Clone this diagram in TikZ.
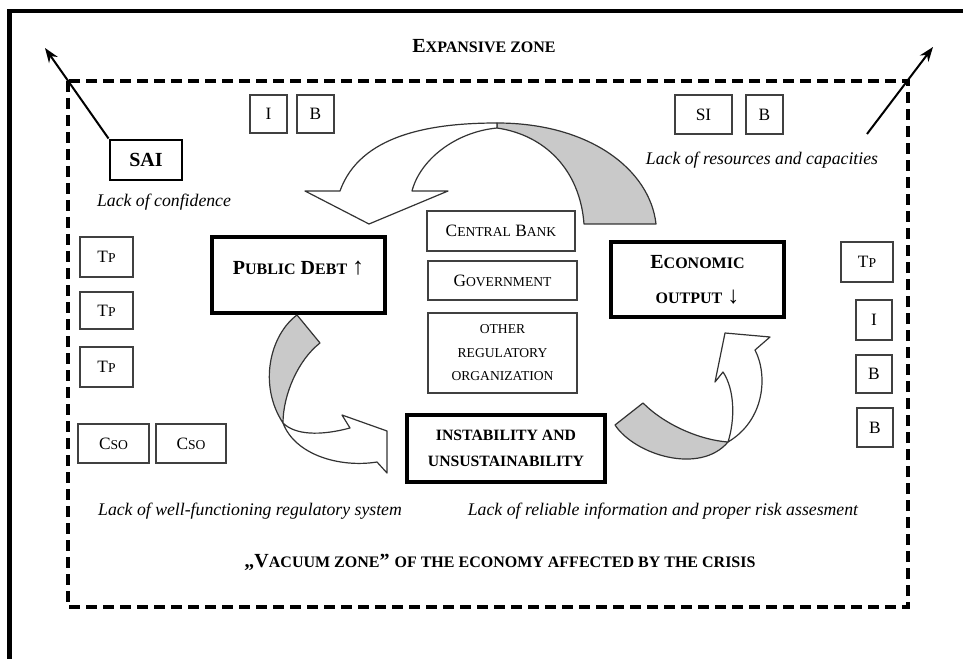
\documentclass[tikz,border=0pt]{standalone}
\usepackage{fontspec}
\setmainfont{Liberation Serif}
\usetikzlibrary{arrows.meta}
\newcommand\smc[1]{{\fontsize{10.2}{12}\selectfont #1}}
\newcommand\smb[1]{{\fontsize{12}{14}\selectfont #1}}
\begin{document}
\begin{tikzpicture}[x=0.75pt,y=-0.75pt,
 every node/.style={font=\fontsize{13}{15.6}\selectfont, inner sep=0pt, text=black},
 thinbox/.style={draw=black!75, line width=1pt, align=center},
 thickbox/.style={draw=black, line width=3pt, align=center},
 lbl/.style={font=\fontsize{13.3}{16}\selectfont\itshape},
 head/.style={font=\fontsize{15}{18}\selectfont\bfseries},
 ribbon/.style={draw=black!80, line width=0.9pt, line join=round},
 shade/.style={ribbon, fill=black!21},
 ptr/.style={line width=1.5pt, -{Stealth[length=11pt,width=8pt]}},
]
\useasboundingbox (0,0) rectangle (963,659);
\fill[white] (0,0) rectangle (963,659);
% outer frame
\draw[line width=3.5pt] (9.5,659) -- (9.5,11) -- (963,11);
% dashed zone
\draw[line width=3pt, dash pattern=on 8.25pt off 4.5pt] (68,81) rectangle (908,607);

% titles
\node[head] (exp) at (484,46) {E\smb{XPANSIVE ZONE}};
\node[head] (vac) at (500,562) {„V\smb{ACUUM ZONE}” \smb{OF THE ECONOMY AFFECTED BY THE CRISIS}};

% SAI
\node[draw, line width=2.2pt, minimum width=54pt, minimum height=30pt,
      font=\fontsize{15}{18}\selectfont\bfseries] (sai) at (146,160) {SAI};
\node[lbl] (conf) at (164,202) {Lack of confidence};
\coordinate (lt) at (45,48);
\draw[ptr] (sai.north west) -- (lt);
\coordinate (rs) at (867,134);
\coordinate (rt) at (933,47);
\draw[ptr] (rs) -- (rt);
\node[lbl] (res) at (762,160) {Lack of resources and capacities};

% small boxes top
\node[thinbox, minimum width=27.75pt, minimum height=28.5pt] (i1) at (268.5,114) {I};
\node[thinbox, minimum width=27.75pt, minimum height=28.5pt] (b1) at (315.5,114) {B};
\node[thinbox, minimum width=42.75pt, minimum height=29.25pt] (si) at (703.5,114.5) {SI};
\node[thinbox, minimum width=27.75pt, minimum height=29.25pt] (b2) at (764.5,114.5) {B};

% left boxes
\node[thinbox, minimum width=39.75pt, minimum height=30pt] (tp1) at (106.5,257) {T\smc{P}};
\node[thinbox, minimum width=39.75pt, minimum height=27.75pt] (tp2) at (106.5,310.5) {T\smc{P}};
\node[thinbox, minimum width=39.75pt, minimum height=30pt] (tp3) at (106.5,367) {T\smc{P}};
\node[thinbox, minimum width=53.25pt, minimum height=29.25pt] (cso1) at (113.5,443.5) {C\smc{SO}};
\node[thinbox, minimum width=52.5pt, minimum height=29.25pt] (cso2) at (191,443.5) {C\smc{SO}};

% right boxes
\node[thinbox, minimum width=39pt, minimum height=30pt] (tp4) at (867,262) {T\smc{P}};
\node[thinbox, minimum width=27pt, minimum height=30pt] (i2) at (874,320) {I};
\node[thinbox, minimum width=27pt, minimum height=28.5pt] (b3) at (874,374) {B};
\node[thinbox, minimum width=27pt, minimum height=29.25pt] (b4) at (875,427.5) {B};

% centre boxes
\node[thinbox, minimum width=111pt, minimum height=30pt] (cb) at (501,231) {C\smc{ENTRAL} B\smc{ANK}};
\node[thinbox, minimum width=111.75pt, minimum height=29.25pt] (gov) at (502.5,280.5) {G\smc{OVERNMENT}};
\node[thinbox, minimum width=111.75pt, minimum height=60pt,
      font=\fontsize{10.2}{17.6}\selectfont] (oro) at (502.5,353) {OTHER\\REGULATORY\\ORGANIZATION};

% main boxes
\node[thickbox, minimum width=129.75pt, minimum height=57pt] (pd) at (298.5,275) {};
\node[head] (pdt) at (298.5,268) {P\smb{UBLIC} D\smb{EBT} {\fontsize{18}{18}\selectfont\mdseries ↑}};
\node[thickbox, minimum width=129.75pt, minimum height=56.25pt,
      font=\fontsize{15}{26}\selectfont\bfseries] (eo) at (697.5,279.5)
      {E\smb{CONOMIC}\\\smb{OUTPUT} {\fontsize{18}{18}\selectfont\mdseries ↓}};
\node[thickbox, minimum width=148.5pt, minimum height=50.25pt,
      font=\fontsize{11.8}{19}\selectfont\bfseries] (ins) at (506,448.5)
      {INSTABILITY AND\\UNSUSTAINABILITY};

% bottom labels
\node[lbl] (reg) at (250,511) {Lack of well-functioning regulatory system};
\node[lbl] (inf) at (663,511) {Lack of reliable information and proper risk assesment};

% top ribbon arrow
\draw[shade] (497,123) .. controls (590,123) and (650,170) .. (656,224)
   -- (584,224) .. controls (580,170) and (545,135) .. (497,128) -- cycle;
\draw[ribbon, fill=white] (497,123) .. controls (430,123) and (360,135) .. (340,191)
   -- (305,191) -- (369,224) -- (448,191) -- (412,191)
   .. controls (420,160) and (455,132) .. (497,128) -- cycle;

% left ribbon arrow
\draw[shade] (297,315) -- (320,343) .. controls (298,360) and (283,395) .. (283,423)
   .. controls (258,385) and (270,335) .. (297,315) -- cycle;
\draw[ribbon, fill=white] (283,423) .. controls (295,455) and (340,468) .. (377,462)
   -- (387,473) -- (387,431) -- (342,415) -- (350,428)
   .. controls (320,436) and (295,435) .. (283,423) -- cycle;

% right ribbon arrow
\draw[shade] (615,425) -- (643,403) .. controls (665,425) and (700,440) .. (728,442)
   .. controls (700,475) and (635,455) .. (615,425) -- cycle;
\draw[ribbon, fill=white] (728,442) .. controls (735,420) and (735,390) .. (723,372)
   -- (715,382) -- (725,333) -- (770,337) -- (755,350)
   .. controls (768,375) and (765,420) .. (728,442) -- cycle;
\end{tikzpicture}
\end{document}
